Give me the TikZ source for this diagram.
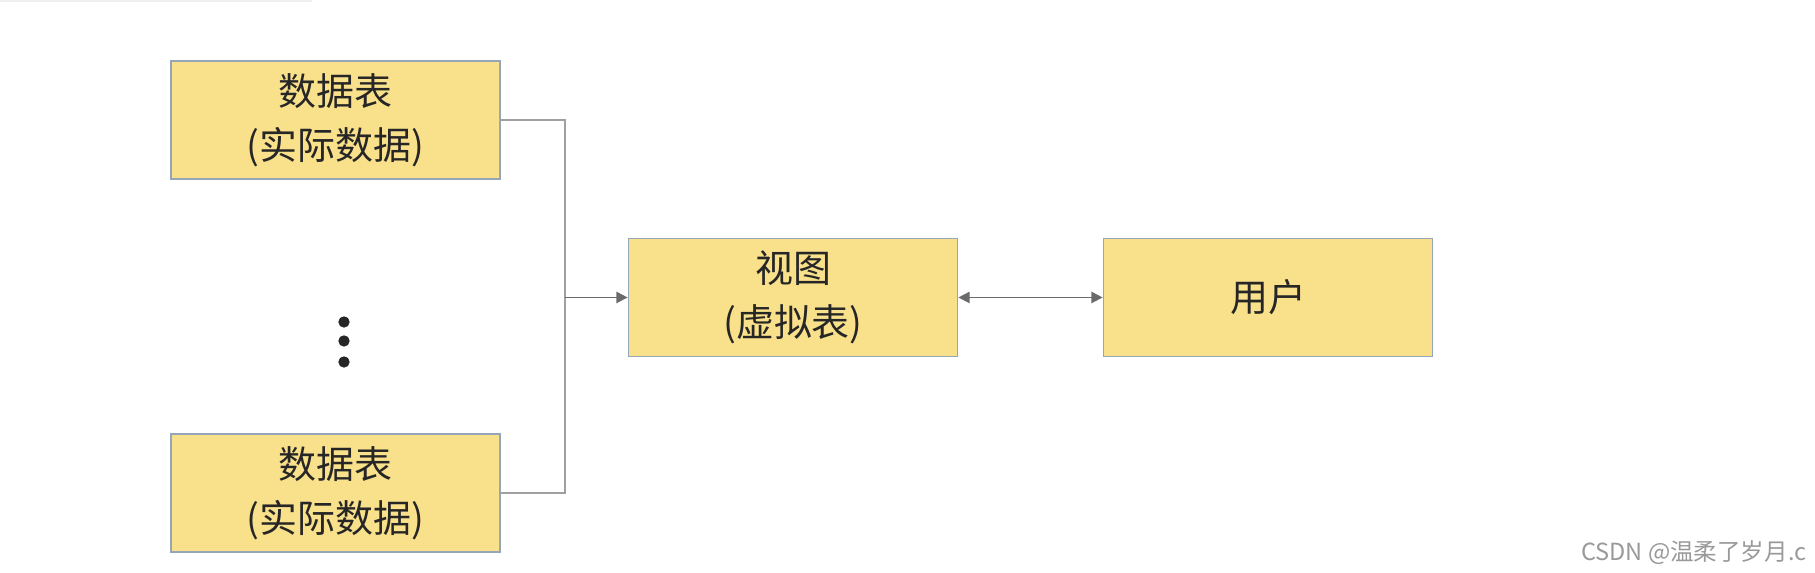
\documentclass[tikz,border=0pt]{standalone}
\usepackage{fontspec}
\usepackage{xcolor}
\usepackage{tikz}
\usetikzlibrary{arrows.meta,calc,positioning}
\newfontfamily\cjk{Noto Sans CJK SC}
\definecolor{boxfill}{HTML}{F9E08B}
\definecolor{boxline}{HTML}{94A6B8}
\definecolor{wireline}{HTML}{A0A0A0}
\definecolor{arrowline}{HTML}{6A6A6A}
\definecolor{marktext}{HTML}{999999}

\tikzset{
  tablebox/.style={draw=boxline, fill=boxfill, line width=0.5pt,
    minimum width=3.29cm, minimum height=1.18cm, align=center,
    inner sep=0pt, text=black!85,
    font=\cjk\fontsize{10.8}{15.4}\selectfont},
  wire/.style={draw=wireline, line width=0.7pt},
  feed/.style={draw=arrowline, line width=0.5pt,
    -{Triangle[length=3.2pt,width=3.2pt]}},
}

\begin{document}
\begin{tikzpicture}
\useasboundingbox (0,0) rectangle (18.15,5.73);
\draw[line width=0.6pt, black!6] (0,5.72) -- (3.12,5.72);

\node[tablebox] (tabtop) at (3.355,4.53) {数据表\\(实际数据)};
\node[tablebox] (tabbot) at (3.355,0.80) {数据表\\(实际数据)};
\node[tablebox] (view) at (7.93,2.755) {视图\\(虚拟表)};
\node[tablebox] (user) at (12.68,2.755) {用户};

\foreach \y in {2.51,2.32,2.11}
{
\filldraw [black!85] (3.44,\y) circle (1.4pt);
}

\coordinate (join) at (5.65,2.755);
\draw[wire] (tabtop.east) -| (join) |- (tabbot.east);
\draw[feed] (join) -- (view.west);
\draw[feed, {Triangle[length=3.2pt,width=3.2pt]}-{Triangle[length=3.2pt,width=3.2pt]}] (view.east) -- (user.west);

\node[anchor=east, inner sep=0pt, text=marktext, font=\cjk\fontsize{6.7}{7}\selectfont] (mark) at (18.07,0.20) {CSDN @温柔了岁月.c};
\end{tikzpicture}
\end{document}
